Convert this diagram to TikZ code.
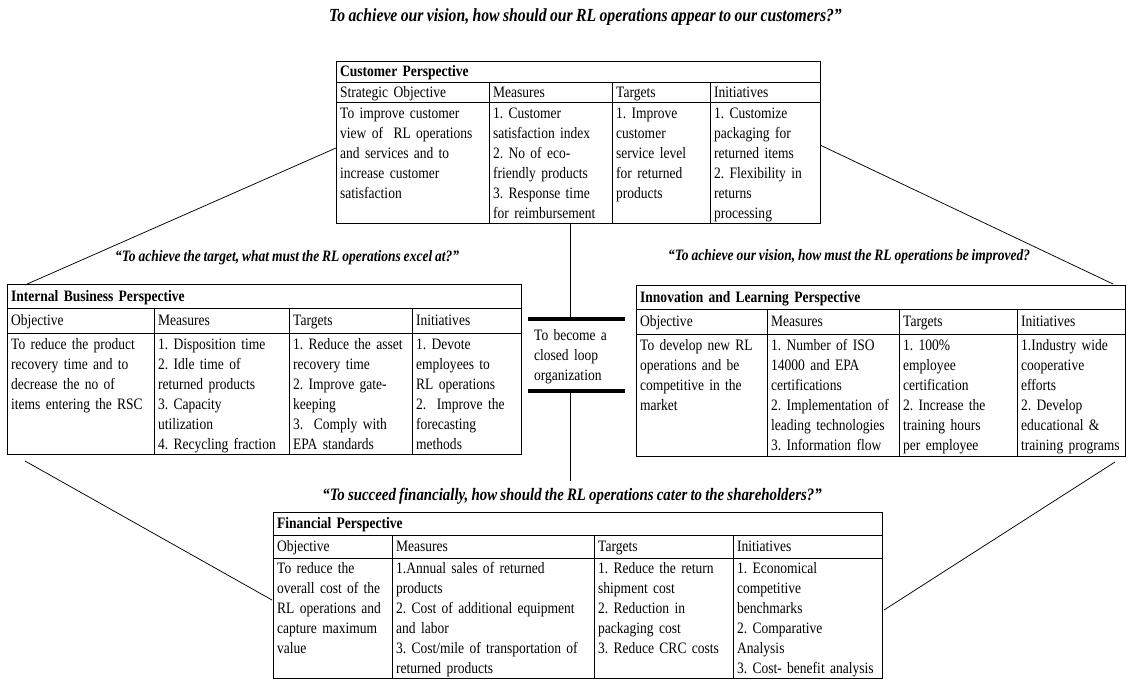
\documentclass[tikz,border=0pt]{standalone}
\usepackage{fontspec}
\setmainfont{Liberation Serif}[FakeStretch=0.85,WordSpace=0.85]
\frenchspacing
\begin{document}
\begin{tikzpicture}[x=1pt,y=-1pt,
  rule/.style={line width=0.9pt},
  frame/.style={draw, line width=0.9pt, anchor=north west, inner sep=0pt},
  cell/.style={anchor=north west, inner sep=0pt, align=left, text width=#1,
    font=\fontsize{15.9}{20}\selectfont, execute at begin node=\strut},
  cell/.default=200pt,
  hcell/.style={cell=#1, font=\fontsize{15.9}{20}\selectfont\bfseries},
  hcell/.default=400pt,
  question/.style={inner sep=0pt, font=\fontsize{#1}{20}\selectfont\bfseries\itshape},
  question/.default=15.9,
  bar/.style={line width=4pt},
  link/.style={line width=0.75pt}]
\useasboundingbox (0,0) rectangle (1127,680);
\fill[white] (0,0) rectangle (1127,680);

% ---------------- questions ----------------
\node[question=18.5, anchor=west] (qcust) at (329,17) {To achieve our vision, how should our RL operations appear to our customers?”};
\node[question, anchor=west] (qint) at (115,258) {“To achieve the target, what must the RL operations excel at?”};
\node[question, anchor=west] (qinn) at (668,257) {“To achieve our vision, how must the RL operations be improved?};
\node[question=17.5] (qfin) at (572,496) {“To succeed financially, how should the RL operations cater to the shareholders?”};

% ---------------- customer perspective ----------------
\node[frame, minimum width=484pt, minimum height=162pt] (cust) at (336,61) {};
\draw[rule] (336,82) -- (820,82) (336,102) -- (820,102);
\draw[rule] (489,82) -- (489,223) (612,82) -- (612,223) (710,82) -- (710,223);
\node[hcell] (custh) at (340,62) {Customer Perspective};
\node[cell] (custc1) at (340,83) {Strategic Objective};
\node[cell] (custc2) at (493,83) {Measures};
\node[cell] (custc3) at (616,83) {Targets};
\node[cell] (custc4) at (714,83) {Initiatives};
\node[cell] (custb1) at (340,104) {To improve customer\\view of\ \ RL operations\\and services and to\\increase customer\\satisfaction};
\node[cell] (custb2) at (493,104) {1. Customer\\satisfaction index\\2. No of eco-\\friendly products\\3. Response time\\for reimbursement};
\node[cell] (custb3) at (616,104) {1. Improve\\customer\\service level\\for returned\\products};
\node[cell] (custb4) at (714,104) {1. Customize\\packaging for\\returned items\\2. Flexibility in\\returns\\processing};

% ---------------- internal business perspective ----------------
\node[frame, minimum width=514pt, minimum height=170pt] (ibp) at (7,284) {};
\draw[rule] (7,308) -- (521,308) (7,333) -- (521,333);
\draw[rule] (154,308) -- (154,454) (289,308) -- (289,454) (412,308) -- (412,454);
\node[hcell] (ibph) at (11,287) {Internal Business Perspective};
\node[cell] (ibpc1) at (11,311) {Objective};
\node[cell] (ibpc2) at (158,311) {Measures};
\node[cell] (ibpc3) at (293,311) {Targets};
\node[cell] (ibpc4) at (416,311) {Initiatives};
\node[cell] (ibpb1) at (11,335) {To reduce the product\\recovery time and to\\decrease the no of\\items entering the RSC};
\node[cell] (ibpb2) at (158,335) {1. Disposition time\\2. Idle time of\\returned products\\3. Capacity\\utilization\\4. Recycling fraction};
\node[cell] (ibpb3) at (293,335) {1. Reduce the asset\\recovery time\\2. Improve gate-\\keeping\\3.\ \ Comply with\\EPA standards};
\node[cell] (ibpb4) at (416,335) {1. Devote\\employees to\\RL operations\\2.\ \ Improve the\\forecasting\\methods};

% ---------------- innovation and learning perspective ----------------
\node[frame, minimum width=489pt, minimum height=171pt] (ilp) at (636,285) {};
\draw[rule] (636,309) -- (1125,309) (636,334) -- (1125,334);
\draw[rule] (767,309) -- (767,456) (899,309) -- (899,456) (1017,309) -- (1017,456);
\node[hcell] (ilph) at (640,288) {Innovation and Learning Perspective};
\node[cell] (ilpc1) at (640,312) {Objective};
\node[cell] (ilpc2) at (771,312) {Measures};
\node[cell] (ilpc3) at (903,312) {Targets};
\node[cell] (ilpc4) at (1021,312) {Initiatives};
\node[cell] (ilpb1) at (640,336) {To develop new RL\\operations and be\\competitive in the\\market};
\node[cell] (ilpb2) at (771,336) {1. Number of ISO\\14000 and EPA\\certifications\\2. Implementation of\\leading technologies\\3. Information flow};
\node[cell] (ilpb3) at (903,336) {1. 100\%\\employee\\certification\\2. Increase the\\training hours\\per employee};
\node[cell] (ilpb4) at (1021,336) {1.Industry wide\\cooperative\\efforts\\2. Develop\\educational \&\\training programs};

% ---------------- financial perspective ----------------
\node[frame, minimum width=609pt, minimum height=166pt] (fin) at (273,512) {};
\draw[rule] (273,535) -- (882,535) (273,558) -- (882,558);
\draw[rule] (392,535) -- (392,678) (594,535) -- (594,678) (733,535) -- (733,678);
\node[hcell] (finh) at (277,514) {Financial Perspective};
\node[cell] (finc1) at (277,537) {Objective};
\node[cell] (finc2) at (396,537) {Measures};
\node[cell] (finc3) at (598,537) {Targets};
\node[cell] (finc4) at (737,537) {Initiatives};
\node[cell] (finb1) at (277,559) {To reduce the\\overall cost of the\\RL operations and\\capture maximum\\value};
\node[cell] (finb2) at (396,559) {1.Annual sales of returned\\products\\2. Cost of additional equipment\\and labor\\3. Cost/mile of transportation of\\returned products};
\node[cell] (finb3) at (598,559) {1. Reduce the return\\shipment cost\\2. Reduction in\\packaging cost\\3. Reduce CRC costs};
\node[cell] (finb4) at (737,559) {1. Economical\\competitive\\benchmarks\\2. Comparative\\Analysis\\3. Cost- benefit analysis};

% ---------------- central goal ----------------
\node[cell] (goal) at (534,326) {To become a\\closed loop\\organization};
\coordinate (bartopL) at (528,319);
\coordinate (bartopR) at (625,319);
\coordinate (barbotL) at (528,391);
\coordinate (barbotR) at (625,391);
\draw[bar] (bartopL) -- (bartopR);
\draw[bar] (barbotL) -- (barbotR);

\coordinate (custfoot) at (570,223);
\coordinate (goaltop) at (570,319);
\coordinate (goalbot) at (570,391);
\coordinate (finlead) at (570,481);
\draw[link] (custfoot) -- (goaltop);
\draw[link] (goalbot) -- (finlead);

% ---------------- diagonal links ----------------
\coordinate (custL) at (336,148);
\coordinate (custR) at (820,145);
\coordinate (ibpTop) at (25,285);
\coordinate (ibpLow) at (25,461);
\coordinate (ilpTop) at (1113,284);
\coordinate (ilpLow) at (1115,462);
\coordinate (finL) at (272,600);
\coordinate (finR) at (884,610);
\draw[link] (custL) -- (ibpTop);
\draw[link] (custR) -- (ilpTop);
\draw[link] (ibpLow) -- (finL);
\draw[link] (ilpLow) -- (finR);
\end{tikzpicture}
\end{document}
